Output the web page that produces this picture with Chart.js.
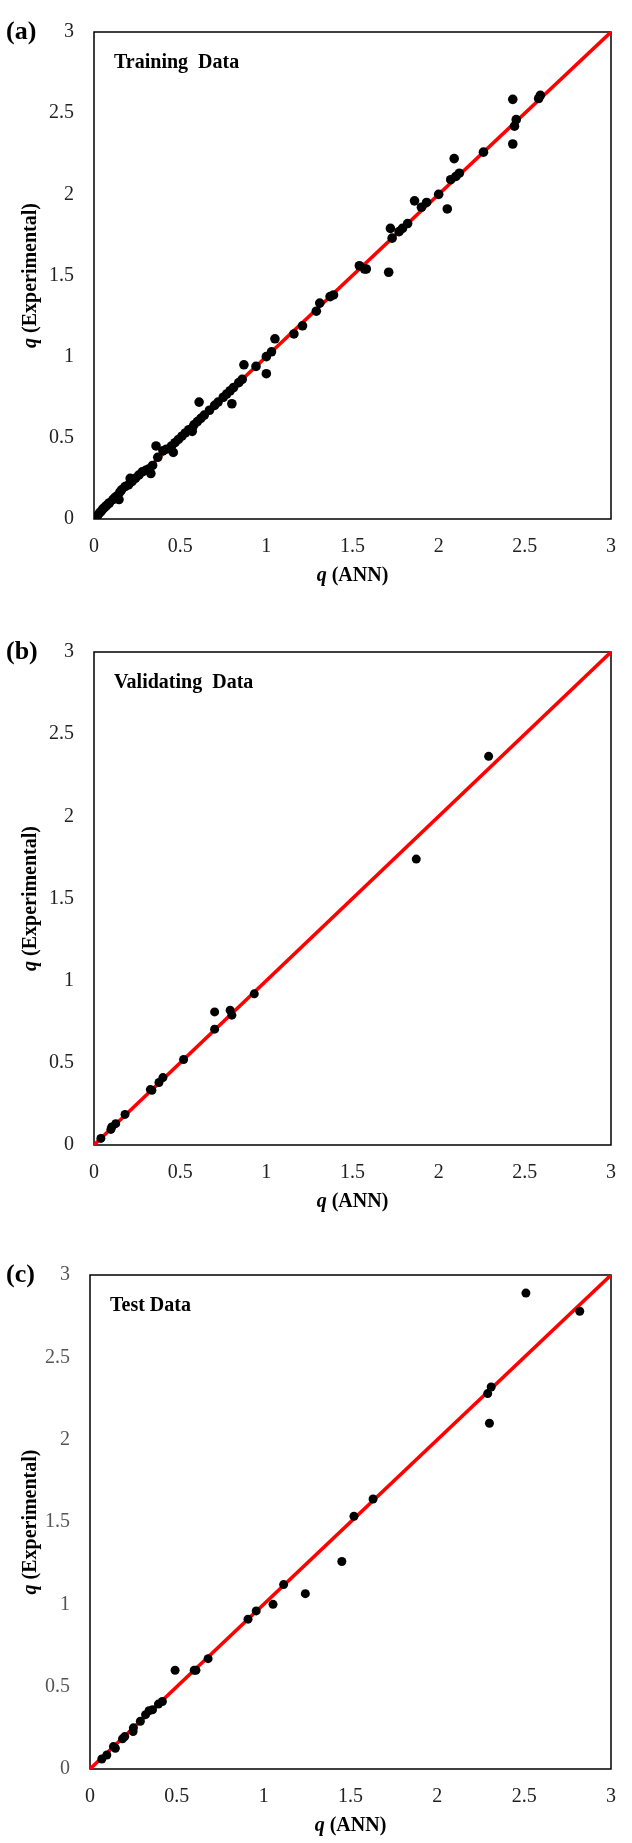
<!DOCTYPE html>
<html>
<head>
<meta charset="utf-8">
<script src="https://cdn.jsdelivr.net/npm/chart.js@4.4.1/dist/chart.umd.min.js"></script>
<style>
	body { margin:0; background:#fff; }
	canvas { position:absolute; left:0; }
</style>
</head>
<body>
<canvas id="pa" width="632" height="600" style="top:0px"></canvas>
<canvas id="pb" width="632" height="600" style="top:620px"></canvas>
<canvas id="pc" width="632" height="600" style="top:1243px"></canvas>
<script>
// tick values shared by both axes of all three panels
const tickValues = [0, 0.5, 1, 1.5, 2, 2.5, 3];

// ideal line
const lineX = [0, 3];
const lineY = [0, 3];

// (a) training data
const trainX = [2.43,2.58,2.59,2.45,2.44,2.43,2.26,2.09,2.12,2.10,2.07,2.00,1.86,1.93,1.90,2.05,1.72,1.82,1.79,1.77,1.73,1.71,1.54,1.57,1.58,1.39,1.37,1.31,1.29,1.21,1.16,1.05,
	1.03,1.00,1.00,0.94,0.87,0.86,0.84,0.81,0.79,0.77,0.75,0.80,0.72,0.70,0.61,0.67,0.64,0.62,0.60,0.58,0.57,0.55,0.53,0.51,0.49,0.47,0.45,0.57,0.46,0.36,0.42,0.40,0.37,
	0.34,0.32,0.30,0.28,0.33,0.26,0.24,0.21,0.22,0.20,0.18,0.16,0.15,0.13,0.145,0.12,0.11,0.09,0.08,0.07,0.06,0.05,0.04,0.03,0.02,0.01];
const trainY = [2.585,2.59,2.61,2.46,2.42,2.31,2.26,2.22,2.13,2.11,2.09,2.00,1.96,1.95,1.92,1.91,1.79,1.82,1.79,1.77,1.73,1.52,1.56,1.54,1.54,1.38,1.37,1.33,1.28,1.19,1.14,1.11,
	1.03,1.00,0.895,0.94,0.95,0.86,0.84,0.81,0.79,0.77,0.75,0.71,0.72,0.70,0.72,0.67,0.64,0.62,0.60,0.58,0.56,0.55,0.53,0.51,0.49,0.47,0.45,0.54,0.41,0.45,0.43,0.42,0.38,
	0.33,0.31,0.30,0.29,0.28,0.27,0.25,0.25,0.23,0.21,0.20,0.18,0.165,0.14,0.12,0.13,0.12,0.10,0.09,0.08,0.07,0.06,0.045,0.035,0.02,0.01];

// (b) validating data
const validX = [2.29,1.87,0.93,0.70,0.79,0.80,0.70,0.52,0.40,0.377,0.336,0.327,0.18,0.126,0.103,0.098,0.04];
const validY = [2.365,1.74,0.92,0.81,0.82,0.79,0.705,0.52,0.41,0.38,0.333,0.337,0.186,0.13,0.11,0.095,0.04];

// (c) test data
const testX = [2.51,2.82,2.31,2.29,2.30,1.63,1.52,1.45,1.115,1.24,1.054,0.957,0.91,0.68,0.61,0.60,0.49,0.417,0.394,0.36,0.34,0.32,0.29,0.25,0.248,0.20,0.187,0.146,0.135,0.097,0.068];
const testY = [2.89,2.78,2.32,2.28,2.10,1.64,1.535,1.26,1.12,1.065,1.00,0.96,0.91,0.67,0.60,0.60,0.60,0.41,0.394,0.36,0.354,0.33,0.29,0.25,0.228,0.197,0.183,0.126,0.136,0.085,0.061];

const serif = '"Liberation Serif", "Times New Roman", serif';

const qTitle = (ctx, s, x, y) => {
	ctx.font = 'italic bold 20px ' + serif
	const w1 = ctx.measureText('q ').width
	ctx.font = 'bold 20px ' + serif
	const w2 = ctx.measureText(s).width
	const x0 = x - (w1 + w2) / 2
	ctx.textAlign = 'left'
	ctx.font = 'italic bold 20px ' + serif
	ctx.fillText('q', x0, y)
	ctx.font = 'bold 20px ' + serif
	ctx.fillText(s, x0 + w1, y)
}

const deco = {
	id: 'deco',
	beforeDatasetsDraw(c, args, o) {
		const {ctx, chartArea: a} = c
		ctx.save()
		ctx.strokeStyle = '#000'
		ctx.lineWidth = 1.5
		ctx.strokeRect(a.left, a.top, a.right - a.left, a.bottom - a.top)
		ctx.restore()
	},
	afterDraw(c, args, o) {
		const {ctx, chartArea: a} = c
		ctx.save()
		ctx.fillStyle = '#000'
		ctx.textBaseline = 'middle'
		ctx.textAlign = 'left'
		ctx.font = 'bold 26px ' + serif
		ctx.fillText(o.panel, 6, a.top)
		ctx.font = 'bold 20px ' + serif
		ctx.fillText(o.caption, a.left + 20, a.top + 31)
		qTitle(ctx, '(ANN)', (a.left + a.right) / 2, a.bottom + 57)
		ctx.translate(31, (a.top + a.bottom) / 2)
		ctx.rotate(-Math.PI / 2)
		qTitle(ctx, '(Experimental)', 0, 0)
		ctx.restore()
	}
}

const pts = (xs, ys) => xs.map((x, i) => ({x, y: ys[i]}))

const axis = extra => ({
	type: 'linear', min: 0, max: 3,
	afterBuildTicks: s => { s.ticks = tickValues.map(v => ({value: v})) },
	grid: { display: false, drawTicks: false },
	border: { display: false },
	...extra
})

const panel = (id, p) => new Chart(document.getElementById(id), {
	type: 'scatter',
	data: {
		datasets: [{
			data: pts(p.xs, p.ys),
			pointRadius: p.r,
			backgroundColor: '#000',
			borderWidth: 0,
		}, {
			type: 'line',
			data: pts(lineX, lineY),
			borderColor: '#ff0000',
			borderWidth: 3.5,
			pointRadius: 0,
			fill: false,
		}]
	},
	plugins: [deco],
	options: {
		responsive: false,
		animation: false,
		layout: { padding: { left: 0, top: p.top, right: 632 - p.right, bottom: 0 } },
		plugins: {
			legend: { display: false },
			tooltip: { enabled: false },
			deco: { panel: p.panel, caption: p.caption },
		},
		scales: {
			x: axis({ afterFit: s => { s.height = 600 - p.bottom }, ticks: { color: '#222', font: { family: serif, size: 20 }, padding: 16, callback: v => String(v) } }),
			y: axis({ afterFit: s => { s.width = p.left }, ticks: { color: p.yColor, font: { family: serif, size: 20 }, padding: 20, callback: v => String(v) } }),
		}
	}
})

panel('pa', { xs: trainX, ys: trainY, r: 4.8, panel: '(a)', caption: 'Training  Data', top: 22, bottom: 519, left: 94, right: 619, yColor: '#222' })
panel('pb', { xs: validX, ys: validY, r: 4.5, panel: '(b)', caption: 'Validating  Data', top: 28, bottom: 525, left: 94, right: 619, yColor: '#222' })
panel('pc', { xs: testX, ys: testY, r: 4.5, panel: '(c)', caption: 'Test Data', top: 32, bottom: 526, left: 90, right: 623, yColor: '#555' })
</script>
</body>
</html>
